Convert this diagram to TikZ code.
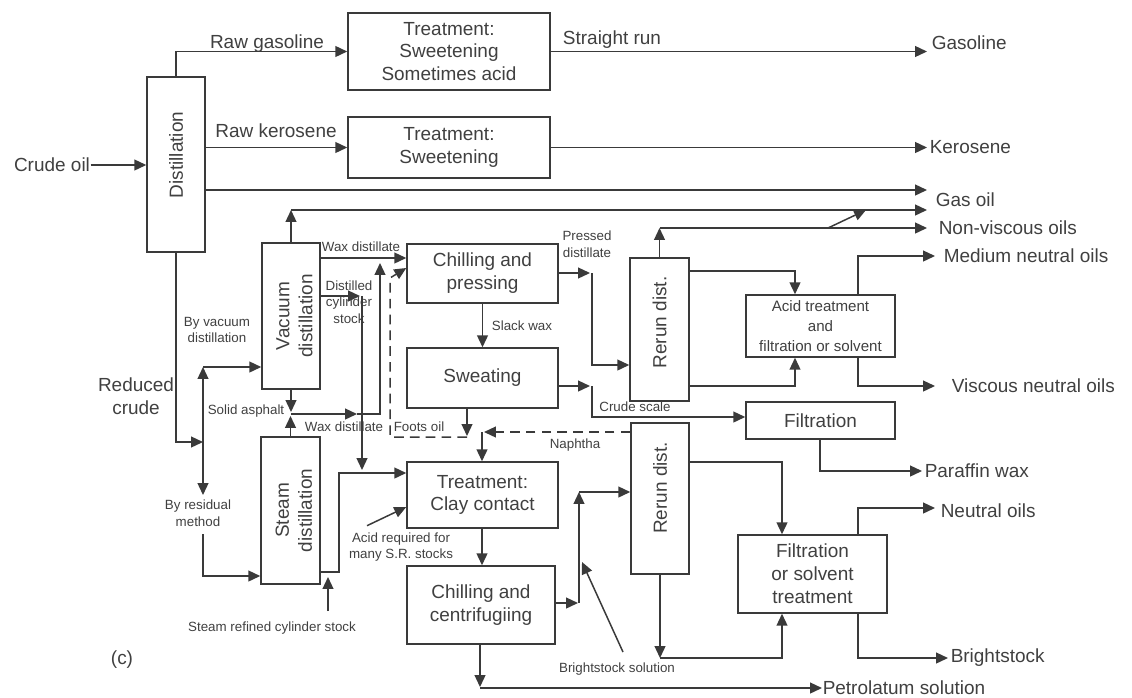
\documentclass[tikz,border=0pt]{standalone}
\usepackage{fontspec}
\setmainfont{Liberation Sans}
\usepackage{graphicx}
\usetikzlibrary{arrows.meta}
\definecolor{ln}{HTML}{3A3A3A}
\definecolor{tx}{HTML}{404040}
\begin{document}
\begin{tikzpicture}[x=0.02cm,y=-0.02cm,color=ln,line width=0.85pt,
  arr/.style={-{Triangle[length=6.8pt,width=6.2pt]}},
  dsh/.style={dash pattern=on 5.5pt off 3.5pt},
  bx/.style 2 args={draw=ln,minimum width=#1*0.02cm,minimum height=#2*0.02cm,inner sep=0pt,
    text=tx,align=center,font=\fontsize{10.8}{13}\selectfont},
  lbl/.style={text=tx,inner sep=0pt,align=center,font=\fontsize{10.8}{13}\selectfont},
  sml/.style={text=tx,inner sep=0pt,align=center,font=\fontsize{7.6}{9.5}\selectfont}]
\useasboundingbox (0,0) rectangle (1132,697);
% boxes
\node[bx={58}{175}] (dist) at (176,164.5) {\rotatebox{90}{\hspace{10.8pt}Distillation}};
\node[bx={202}{77}] (t1) at (449,51.5) {Treatment:\\Sweetening\\Sometimes acid};
\node[bx={202}{61}] (t2) at (449,147.5) {Treatment:\\Sweetening};
\node[bx={58}{146}] (vac) at (291,316) {\hspace{6pt}\rotatebox{90}{\begin{tabular}{@{}c@{}}Vacuum\\distillation\end{tabular}}};
\node[bx={59}{147}] (steam) at (290.5,510.5) {\hspace{6pt}\rotatebox{90}{\begin{tabular}{@{}c@{}}Steam\\distillation\end{tabular}}};
\node[bx={151}{59}] (chp) at (482.5,273.5) {Chilling and\\pressing};
\node[bx={151}{60}] (sweat) at (482.5,378) {Sweating};
\node[bx={151}{66}] (clay) at (482.5,495) {Treatment:\\Clay contact};
\node[bx={148}{78}] (chc) at (481,605) {Chilling and\\centrifugiing};
\node[bx={59}{143}] (rr1) at (659.5,329.5) {\rotatebox{90}{\hspace{8pt}Rerun dist.}};
\node[bx={58}{151}] (rr2) at (660,498.5) {\rotatebox{90}{\hspace{12pt}Rerun dist.}};
\node[bx={149}{62},font=\fontsize{8.6}{11.3}\selectfont] (acid) at (820.5,326) {Acid treatment\\and\\filtration or solvent};
\node[bx={149}{37}] (filt) at (820.5,420.5) {Filtration};
\node[bx={149}{78}] (fst) at (812.5,574) {Filtration\\or solvent\\treatment};
% labels
\node[lbl] (crude) at (52,165) {Crude oil};
\node[lbl] (lrg) at (267,44) {Raw gasoline};
\node[lbl] (lsr) at (612,40) {Straight run};
\node[lbl] (lrk) at (276,131) {Raw kerosene};
\node[lbl,anchor=west] (gasoline) at (931,43) {Gasoline};
\node[lbl,anchor=west] (kerosene) at (929,147) {Kerosene};
\node[lbl,anchor=west] (gasoil) at (935,200) {Gas oil};
\node[lbl,anchor=west] (nonvisc) at (938,228) {Non-viscous oils};
\node[lbl,anchor=west] (medium) at (943,256) {Medium neutral oils};
\node[lbl,anchor=west] (viscous) at (951,386) {Viscous neutral oils};
\node[lbl,anchor=west] (paraffin) at (924,471) {Paraffin wax};
\node[lbl,anchor=west] (neutral) at (940,511) {Neutral oils};
\node[lbl,anchor=west] (bright) at (950,658) {Brightstock};
\node[lbl,anchor=west] (petro) at (822,688) {Petrolatum solution};
\node[lbl] (reduced) at (136,396) {Reduced\\crude};
\node[lbl] (lc) at (122,660) {(c)};
\node[sml] (lbyvac) at (217,330) {By vacuum\\distillation};
\node[sml] (lbyres) at (198,513) {By residual\\method};
\node[sml] (lwax1) at (361,247) {Wax distillate};
\node[sml] (ldcs) at (349,302) {Distilled\\cylinder\\stock};
\node[sml] (lasph) at (246,411) {Solid asphalt};
\node[sml] (lwax2) at (344,427) {Wax distillate};
\node[sml] (lfoots) at (419,427) {Foots oil};
\node[sml] (lpress) at (587,244) {Pressed\\distillate};
\node[sml] (lslack) at (522,326) {Slack wax};
\node[sml] (lscale) at (635,407) {Crude scale};
\node[sml] (lnaph) at (575,445) {Naphtha};
\node[sml] (lacidreq) at (401,547) {Acid required for\\many S.R. stocks};
\node[sml] (lsrcs) at (272,628) {Steam refined cylinder stock};
\node[sml] (lbss) at (617,669) {Brightstock solution};
% arrow ends
\coordinate (gasE) at (927,51.5);
\coordinate (kerE) at (927,147.5);
\coordinate (vacT) at (291,210);
\coordinate (rrT) at (659.5,228);
% connectors: top
\draw[arr] (crude.east) -- (dist.west |- crude.east);
\draw[arr] (dist.north) |- (t1.west);
\draw[arr] (t1.east) -- (gasE);
\draw[arr] (dist.east |- t2.west) -- (t2.west);
\draw[arr] (t2.east) -- (kerE);
\draw[arr] (dist.east |- 0,190) -- (927,190);
\draw[arr] (vac.north) -- (vacT);
\draw[arr] (vacT) -- (927,210);
\draw[arr] (rr1.north) -- (rrT);
\draw[arr] (rrT) -- (927,228);
\draw[arr] (828,228) -- (866,210);
% vacuum distillation outputs
\draw[arr] (vac.east |- 0,258) -- (chp.west |- 0,258);
\draw[arr] (vac.east |- 0,296) -- (360,296);
\draw[arr] (362,296) -- (362,470);
\draw[arr] (vac.south) -- (291,412);
\draw[arr] (steam.north) -- (290.5,416);
\draw[arr] (291,414) -- (357,414);
\draw[arr] (357,414) -- (380,414) -- (380,263);
% foots oil (dashed)
\draw[arr] (sweat.south -| 467,0) -- (467,436);
\draw[arr,dsh] (467,437) -- (390,437) -- (390,278) -- (chp.west |- 0,268);
% naphtha
\draw[arr,dsh] (rr2.west |- 0,432) -- (484,432);
\draw[arr] (482,432) -- (clay.north -| 482,0);
% chilling/pressing
\draw[arr] (chp.south) -- (sweat.north);
\draw[arr] (chp.east |- 0,273) -- (590,273);
\draw[arr] (592,273) -- (592,365) -- (rr1.west |- 0,365);
\draw[arr] (sweat.east |- 0,386) -- (590,386);
\draw[arr] (592,386) -- (592,417) -- (filt.west |- 0,417);
% rerun 1
\draw[arr] (rr1.east |- 0,271) -| (acid.north -| 795,0);
\draw[arr] (rr1.east |- 0,386) -| (acid.south -| 795,0);
\draw[arr] (acid.north -| 858,0) |- (935,256);
\draw[arr] (acid.south -| 858,0) |- (935,386);
\draw[arr] (filt.south -| 820,0) |- (922,471);
% reduced crude
\draw[arr] (dist.south) |- (203,442);
\draw[arr] (203,442) -- (203,367);
\draw[arr] (203,367) -- (vac.west |- 0,367);
\draw[arr] (203,442) -- (203,495);
\draw[arr] (lbyres.south -| 203,0) ++(0,7) -- (203,576) -- (steam.west |- 0,576);
% steam distillation
\draw[arr] (steam.east |- 0,572) -- (339,572) -- (339,473) -- (clay.west |- 0,473);
\draw[arr] (lsrcs.north -| 328,0) ++(0,-10) -- (328,577);
\draw[arr] (lacidreq.north -| 367,0) ++(0,-6) -- (clay.west |- 0,507);
% clay contact and centrifuging
\draw[arr] (clay.south -| 482,0) -- (chc.north -| 482,0);
\draw[arr] (chc.east |- 0,603) -- (578,603);
\draw[arr] (579,603) -- (579,492);
\draw[arr] (579,492) -- (rr2.west |- 0,492);
\draw[arr] (lbss.north -| 623,0) ++(0,-10) -- (582,562);
\draw[arr] (chc.south -| 480,0) -- (480,687);
\draw[arr] (480,688) -- (petro.west |- 0,688);
% rerun 2
\draw[arr] (rr2.south) -- (660,658);
\draw[arr] (660,658) -| (fst.south -| 782,0);
\draw[arr] (rr2.east |- 0,462) -| (fst.north -| 782,0);
\draw[arr] (fst.north -| 858,0) |- (935,508);
\draw[arr] (fst.south -| 858,0) |- (948,658);
\end{tikzpicture}
\end{document}
